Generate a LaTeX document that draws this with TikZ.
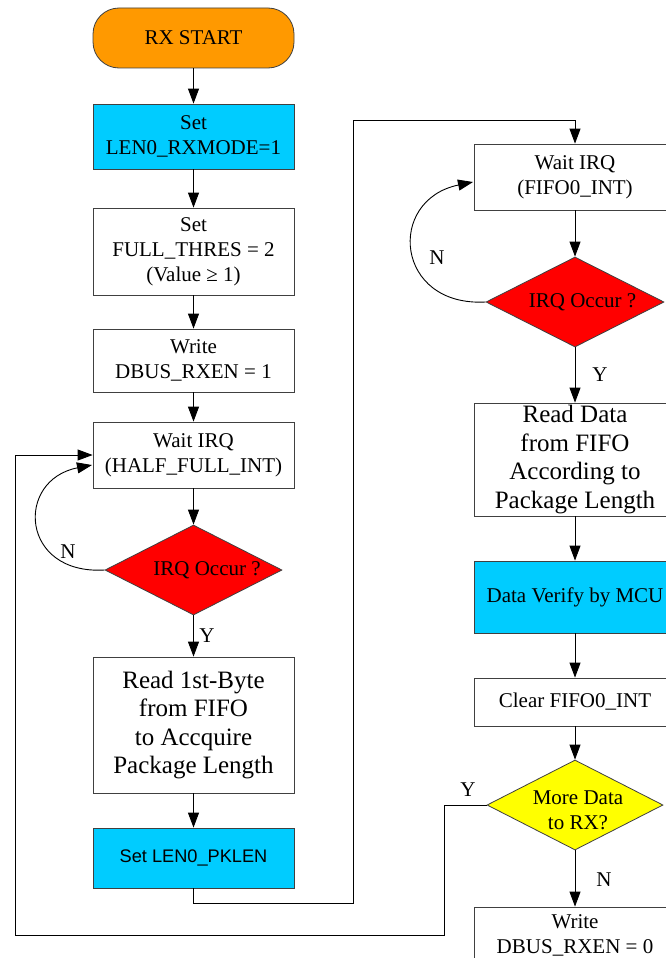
\documentclass[tikz,border=0pt]{standalone}
\usepackage{fontspec}
\setmainfont{Liberation Serif}
\newfontfamily\sansf{Liberation Sans}
\usetikzlibrary{shapes.geometric,arrows.meta}
\definecolor{startorange}{HTML}{FF9900}
\definecolor{regcyan}{HTML}{00CCFF}
\definecolor{irqred}{HTML}{FF0000}
\definecolor{askyellow}{HTML}{FFFF00}
\begin{document}
\begin{tikzpicture}[x=1pt,y=-1pt,
  box/.style={draw=black!75, line width=0.8pt, fill=white, inner sep=0pt,
    align=center, font=\fontsize{21}{25}\selectfont},
  lbox/.style={box, minimum width=201pt},
  rbox/.style={box, minimum width=202pt},
  bigtext/.style={font=\fontsize{25}{28.5}\selectfont},
  decision/.style={diamond, draw=black!75, line width=0.8pt, inner sep=0pt,
    minimum width=#1, minimum height=90pt},
  txt/.style={inner sep=0pt, align=center, font=\fontsize{21}{25}\selectfont},
  arr/.style={line width=0.9pt, -{Triangle[length=15pt,width=11pt]}},
  ln/.style={line width=0.9pt}]
\clip (0,0) rectangle (666,958);
\fill[white] (0,0) rectangle (666,958);

% left column
\node[lbox, fill=startorange, rounded corners=26pt, minimum height=60pt] (start) at (193.5,38) {RX START};
\node[lbox, fill=regcyan, minimum height=65pt] (s1) at (193.5,136.5) {Set\\LEN0\_RXMODE=1};
\node[lbox, minimum height=87pt] (s2) at (193.5,251.5) {Set\\FULL\_THRES = 2\\(Value ≥ 1)};
\node[lbox, minimum height=63pt] (s3) at (193.5,360.5) {Write\\DBUS\_RXEN = 1};
\node[lbox, minimum height=66pt] (w1) at (193.5,455) {Wait IRQ\\(HALF\_FULL\_INT)};
\node[decision=177pt, fill=irqred] (d1) at (193.5,570) {};
\node[txt] (d1t) at (207,570) {IRQ Occur ?};
\node[lbox, bigtext, minimum height=136pt] (r1) at (193.5,725) {Read 1st-Byte\\from FIFO\\to Accquire\\Package Length};
\node[lbox, fill=regcyan, minimum height=60pt, font=\sansf\fontsize{18.2}{21}\selectfont] (p1) at (193.5,858) {Set LEN0\_PKLEN};

% right column
\node[rbox, minimum height=66pt] (w2) at (575,177) {Wait IRQ\\(FIFO0\_INT)};
\node[decision=178pt, fill=irqred] (d2) at (575,302) {};
\node[txt] (d2t) at (582.5,302) {IRQ Occur ?};
\node[rbox, bigtext, minimum height=113pt] (r2) at (575,459.5) {Read Data\\from FIFO\\According to\\Package Length};
\node[rbox, fill=regcyan, minimum height=72pt] (v2) at (575,597) {Data Verify by MCU};
\node[rbox, minimum height=48pt] (c2) at (575,702) {Clear FIFO0\_INT};
\node[decision=176pt, fill=askyellow] (d3) at (575,805) {};
\node[txt] (d3t) at (578,810) {More Data\\to RX?};
\node[rbox, minimum height=56pt] (e2) at (575,935) {Write\\DBUS\_RXEN = 0};

% main flow
\draw[arr] (start) -- (s1);
\draw[arr] (s1) -- (s2);
\draw[arr] (s2) -- (s3);
\draw[arr] (s3) -- (w1);
\draw[arr] (w1) -- (d1);
\draw[arr] (d1) -- (r1);
\draw[arr] (r1) -- (p1);
\draw[arr] (w2) -- (d2);
\draw[arr] (d2) -- (r2);
\draw[arr] (r2) -- (v2);
\draw[arr] (v2) -- (c2);
\draw[arr] (c2) -- (d3);
\draw[arr] (d3) -- (e2);

% retry loops
\coordinate (w1in) at (92,465);
\draw[arr] (d1.west) .. controls (20,575) and (15,480) .. (w1in);
\coordinate (w2in) at (473,182);
\draw[arr] (d2.west) .. controls (395,307) and (386,200) .. (w2in);

% jump to second column
\coordinate (j1) at (353,903);
\coordinate (j2) at (353,120);
\draw[arr] (p1.south) |- (j1) -- (j2) -| (w2.north);

% more data: back to first wait
\coordinate (b1) at (444,935);
\coordinate (b2) at (15,935);
\draw[arr] (d3.west) -| (b1) -- (b2) |- (w1.west);

% branch labels
\node[txt] (lY1) at (207,636) {Y};
\node[txt] (lN1) at (68,552) {N};
\node[txt] (lN2) at (437,258) {N};
\node[txt] (lY2) at (600,375) {Y};
\node[txt] (lY3) at (468,790) {Y};
\node[txt] (lN3) at (604,880) {N};
\end{tikzpicture}
\end{document}
